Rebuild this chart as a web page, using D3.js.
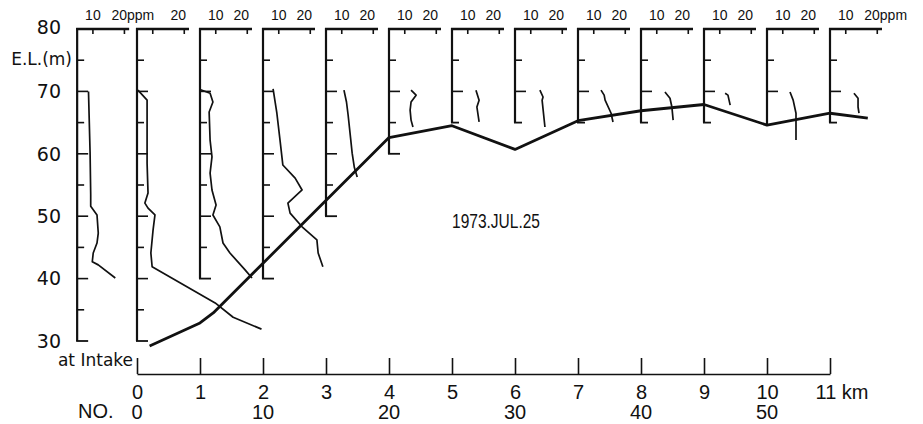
<!DOCTYPE html>
<html>
<head>
<meta charset="utf-8">
<script src="https://cdn.jsdelivr.net/npm/d3@7"></script>
<style>
  body { margin: 0; background: #fff; }
  svg { display: block; }
  text { fill: #111; }
</style>
</head>
<body>
<svg id="chart" width="923" height="424"></svg>
<script>
// Distance along the reservoir (km) of each sampling profile; the first one is the intake.
const stationKm = [-0.95, 0, 1, 2, 3, 4, 5, 6, 7, 8, 9, 10, 11];
// Lowest elevation (m) reached by each profile's depth axis.
const stationBottom = [30, 30, 40, 40, 50, 60, 65, 65, 65, 65, 65, 64.6, 65];
// Concentration profiles, one per station: [ppm, elevation m].
const profile0 = [[8.6,70],[9.1,60.3],[9.3,53.5],[9.3,51.6],[11.3,50.2],[11.7,47.3],[11.3,45.7],[10.1,44.1],[9.8,42.7],[11.7,42.2],[17.1,40.1]];
const profile1 = [[5.3,70.2],[8.2,68.6],[8.2,65.4],[8.2,58.5],[8.5,53.7],[7.5,52.1],[8.5,51.3],[10.7,50.2],[10.1,47.8],[9.4,44.1],[9.8,41.9],[29.8,36.1],[35.5,33.8],[44.5,31.9]];
const profile2 = [[5,70.3],[8.2,69.7],[9.1,68.3],[7.9,66.7],[8.2,62.2],[8.8,59.5],[8.2,56.9],[8.8,54.2],[10.1,51.8],[9.1,50.2],[11.3,48.3],[12.3,45.7],[14.5,44.1],[19.3,41.4],[21.5,40.1]];
const profile3 = [[8.2,70.4],[9.4,66.5],[10.4,62.2],[11.3,58.2],[15.2,56.1],[17.4,54.2],[12.9,52.1],[13.6,50.5],[17.4,48.3],[22.1,46.2],[22.5,44.1],[24,41.9]];
const profile4 = [[10.7,70.2],[11.5,68.3],[12.0,66.3],[12.8,62.5],[13.3,60.1],[14,57.8],[14.9,56.3]];
const profile5 = [[12.0,70.2],[13.6,69.4],[12.0,68.3],[11.7,67.0],[12.0,65.4],[12.6,64.3]];
const profile6 = [[12.6,70.2],[13.6,68.6],[12.9,67.5],[13.6,65.1]];
const profile7 = [[12.9,70.2],[13.9,69.1],[13.6,68.6],[14.5,64.3]];
const profile8 = [[12.3,70.2],[13.3,69.4],[13.6,68.6],[15.5,66.5],[16.1,65.1]];
const profile9 = [[12.6,69.9],[14.2,68.9],[14.8,67.5],[15.2,65.4]];
const profile10 = [[11.7,69.7],[12.6,69.4],[13.3,67.8]];
const profile11 = [[12.3,69.9],[13.3,68.6],[14.2,66.5],[14.2,62.2]];
const profile12 = [[12.6,69.7],[13.9,68.9],[13.9,67.5],[14.2,66.5]];
const profiles = [profile0, profile1, profile2, profile3, profile4, profile5, profile6,
                  profile7, profile8, profile9, profile10, profile11, profile12];

// Reservoir bed along the channel.
const bedKm = [0.2, 1, 1.21, 4, 5, 6, 7, 8, 9, 10, 11, 11.6];
const bedEl = [29.2, 32.9, 34.5, 62.6, 64.5, 60.7, 65.3, 66.9, 67.9, 64.6, 66.5, 65.7];

// Axis ticks and labels.
const elevLabels = [30, 40, 50, 60, 70, 80];
const depthTicks = [75, 70, 65, 60, 55, 50, 45, 40, 35];
const kmTicks = [0, 1, 2, 3, 4, 5, 6, 7, 8, 9, 10, 11];
const stationNo = [0, 10, 20, 30, 40, 50];
const stationNoKm = [0, 2, 4, 6, 8, 10];
const ppmTicks = [10, 20];
// Which ppm tick labels each profile shows; "unit" adds "ppm" after the 20.
const ppmLabelTen = [true, false, true, true, true, true, true, true, true, true, true, true, true];
const ppmLabelUnit = [true, false, false, false, false, false, false, false, false, false, false, false, true];
const dateLabel = "1973.JUL.25";

const svg = d3.select("#chart");
const ink = "#111";

const y = d3.scaleLinear().domain([30, 80]).range([341, 29]);
const xKm = d3.scaleLinear().domain([0, 11]).range([137, 830]);
const xPpm = d3.scaleLinear().domain([5, 21.5]).range([0, 52]);

// ---- station panels -------------------------------------------------
stationKm.forEach((km, i) => {
  const x0 = xKm(km);
  const g = svg.append("g").attr("transform", `translate(${x0},0)`);
  const bottom = stationBottom[i];

  // top ppm scale bar
  g.append("line")
    .attr("x1", -1).attr("x2", xPpm(21.5))
    .attr("y1", y(80)).attr("y2", y(80))
    .attr("stroke", ink).attr("stroke-width", 2.6);
  ppmTicks.forEach(p => {
    g.append("line")
      .attr("x1", xPpm(p)).attr("x2", xPpm(p))
      .attr("y1", y(80)).attr("y2", y(80) + 5)
      .attr("stroke", ink).attr("stroke-width", 1.6);
  });
  const lab = g.append("g")
    .attr("font-family", "'Liberation Sans', Arial, sans-serif")
    .attr("font-size", 14);
  if (ppmLabelTen[i]) {
    lab.append("text").attr("x", xPpm(10)).attr("y", 20)
      .attr("text-anchor", "middle").text("10");
  }
  if (ppmLabelUnit[i]) {
    lab.append("text").attr("x", xPpm(20) - 13).attr("y", 20).text("20ppm");
  } else {
    lab.append("text").attr("x", xPpm(20) - 6).attr("y", 20)
      .attr("text-anchor", "middle").text("20");
  }

  // depth axis
  g.append("line")
    .attr("x1", 0).attr("x2", 0)
    .attr("y1", y(80) - 1).attr("y2", y(bottom))
    .attr("stroke", ink).attr("stroke-width", 2.2);
  depthTicks.filter(t => t >= bottom + 1).forEach(t => {
    g.append("line")
      .attr("x1", 0).attr("x2", t % 10 === 0 ? 11 : 7)
      .attr("y1", y(t)).attr("y2", y(t))
      .attr("stroke", ink).attr("stroke-width", 1.6);
  });
  if (bottom % 5 === 0) {
    g.append("line")
      .attr("x1", -1).attr("x2", bottom % 10 === 0 ? 11 : 7)
      .attr("y1", y(bottom)).attr("y2", y(bottom))
      .attr("stroke", ink).attr("stroke-width", 1.8);
  }

  // concentration profile
  g.append("path")
    .datum(profiles[i])
    .attr("d", d3.line().x(d => xPpm(d[0])).y(d => y(d[1])))
    .attr("fill", "none").attr("stroke", ink)
    .attr("stroke-width", 1.7).attr("stroke-linejoin", "round");
});

// ---- reservoir bed ----------------------------------------------------
svg.append("path")
  .datum(bedKm.map((k, i) => [k, bedEl[i]]))
  .attr("d", d3.line().x(d => xKm(d[0])).y(d => y(d[1])))
  .attr("fill", "none").attr("stroke", ink)
  .attr("stroke-width", 2.8).attr("stroke-linejoin", "round");

// ---- elevation labels --------------------------------------------------
const elevG = svg.append("g")
  .attr("font-family", "'DejaVu Sans', sans-serif")
  .attr("font-size", 19);
elevLabels.forEach(v => {
  elevG.append("text")
    .attr("x", 61).attr("y", y(v) - (v === 80 ? 2 : 0))
    .attr("dy", "0.36em").attr("text-anchor", "end").text(v);
});
svg.append("text")
  .attr("x", 72).attr("y", 65)
  .attr("text-anchor", "end")
  .attr("font-family", "'DejaVu Sans', sans-serif")
  .attr("font-size", 17).text("E.L.(m)");
svg.append("text")
  .attr("x", 133).attr("y", 366)
  .attr("text-anchor", "end")
  .attr("font-family", "'DejaVu Sans', sans-serif")
  .attr("font-size", 17).text("at Intake");

// ---- distance axis -------------------------------------------------
const axis = d3.axisBottom(xKm)
  .tickValues(kmTicks)
  .tickSize(-16)
  .tickSizeOuter(0)
  .tickPadding(11)
  .tickFormat(d => d);
const axG = svg.append("g")
  .attr("transform", "translate(0,374)")
  .call(axis);
axG.select(".domain").attr("stroke", ink).attr("stroke-width", 1.6);
axG.selectAll(".tick line").attr("stroke", ink).attr("stroke-width", 1.6);
axG.selectAll(".tick text")
  .attr("fill", ink)
  .attr("font-family", "'Liberation Sans', Arial, sans-serif")
  .attr("font-size", 20);
axG.selectAll(".tick text")
  .filter(d => d === 11)
  .attr("text-anchor", "start").attr("x", -15)
  .text("11 km");

// station numbers below the distances
const noG = svg.append("g")
  .attr("font-family", "'Liberation Sans', Arial, sans-serif")
  .attr("font-size", 20);
noG.append("text").attr("x", 78).attr("y", 418).text("NO.");
stationNo.forEach((n, i) => {
  noG.append("text")
    .attr("x", xKm(stationNoKm[i])).attr("y", 419)
    .attr("text-anchor", "middle").text(n);
});

// survey date
svg.append("text")
  .attr("x", 452).attr("y", 228)
  .attr("font-family", "'Liberation Sans', Arial, sans-serif")
  .attr("font-size", 21)
  .attr("textLength", 88).attr("lengthAdjust", "spacingAndGlyphs")
  .text(dateLabel);
</script>
</body>
</html>
